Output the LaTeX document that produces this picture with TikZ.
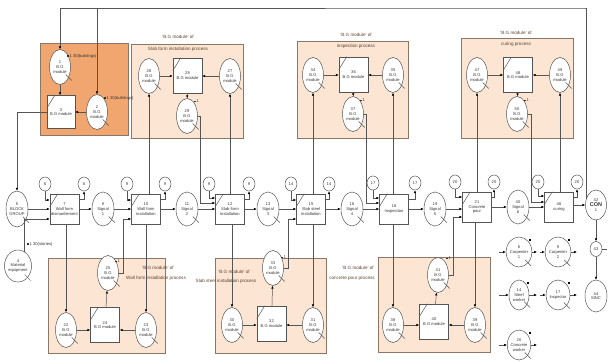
\documentclass[tikz,border=0pt]{standalone}
\usepackage{fontspec}
\setmainfont{Liberation Sans}
\usetikzlibrary{shapes.geometric,arrows.meta,calc}
\definecolor{dorange}{RGB}{241,166,112}
\definecolor{lorange}{RGB}{252,229,210}
\definecolor{bord}{RGB}{140,118,102}
\definecolor{ln}{RGB}{85,85,85}
\definecolor{ttl}{RGB}{95,65,45}
\newcommand\qtail[1]{\draw[ln,line width=0.5pt] ([shift={(-3,-3)}]#1.-50) -- ([shift={(3,3)}]#1.-50);}
\newcommand\cslash[1]{\draw[ln,line width=0.5pt] ([shift={(0,13)}]#1.north west) -- ([shift={(8,0)}]#1.north west);}
\newcommand\mkr{\rule{1.8pt}{1.8pt}\,}
\tikzset{
  every node/.style={font=\fontsize{4.1}{4.7}\selectfont, align=center, inner sep=0pt, text=black!80},
  bgq/.style={ellipse, draw=ln, fill=white, line width=0.5pt, minimum width=21, minimum height=35},
  sigq/.style={ellipse, draw=ln, fill=white, line width=0.5pt, minimum width=22, minimum height=34},
  resq/.style={ellipse, draw=ln, fill=white, line width=0.5pt, minimum width=20, minimum height=30},
  combi/.style={rectangle, draw=ln, fill=white, line width=0.5pt, minimum width=29, minimum height=30},
  mcombi/.style={rectangle, draw=ln, fill=white, line width=0.5pt, minimum width=29, minimum height=35},
  smallc/.style={ellipse, draw=ln, fill=white, line width=0.5pt, minimum width=12, minimum height=14},
  arr/.style={draw=ln, line width=0.5pt, -{Latex[length=2.8pt,width=2.4pt,black]}},
  plain/.style={draw=ln, line width=0.5pt},
  modbox/.style={fill=lorange, draw=bord, line width=0.7pt},
  ttlf/.style={font=\fontsize{4.6}{5.4}\selectfont, text=ttl},
  mk/.style={fill=black, minimum size=2, inner sep=0pt}
}
\begin{document}
\begin{tikzpicture}[x=1pt,y=-1pt]
\useasboundingbox (0,0) rectangle (609,361);
% ---------- background boxes ----------
\filldraw[fill=dorange, draw=bord, line width=0.7pt] (40,43) rectangle (128,135);
\filldraw[modbox] (131,44) rectangle (243,138);
\filldraw[modbox] (297,41) rectangle (408,138);
\filldraw[modbox] (461,38) rectangle (573,138);
\filldraw[modbox] (48,258) rectangle (165,353);
\filldraw[modbox] (215,258) rectangle (326,353);
\filldraw[modbox] (378,257) rectangle (490,352);
% ---------- titles ----------
\node[ttlf] (t1a) at (178,37) {`B.G module' of};
\node[ttlf] (t1b) at (178,49) {Slab form installation process};
\node[ttlf] (t2a) at (356,35) {`B.G module' of};
\node[ttlf] (t2b) at (356,46) {inspection process};
\node[ttlf] (t3a) at (516,33) {`B.G module' of};
\node[ttlf] (t3b) at (516,44) {curing process};
\node[ttlf] (t4a) at (158,268) {`B.G module' of};
\node[ttlf] (t4b) at (156,278) {Wall form installation process};
\node[ttlf] (t5a) at (234,272) {`B.G module' of};
\node[ttlf] (t5b) at (226,281) {Slab steel installation process};
\node[ttlf] (t6a) at (358,268) {`B.G module' of};
\node[ttlf] (t6b) at (352,278) {concrete pour process};
% ---------- left dark module ----------
\node[bgq] (m1) at (60,67) {1\\B.G\\module};
\node[bgq] (m2) at (97,112) {2\\B.G\\module};
\node[mcombi, minimum width=28, minimum height=33] (b3) at (61,112) {3\\B.G module};
\node[anchor=west] (l1) at (67,56) {\mkr 1 30(buildings)};
\node[anchor=west] (l2) at (104,98) {\mkr 1 30(buildings)};
\qtail{m1}\qtail{m2}\cslash{b3}
\draw[arr] (m1) -- (b3.north -| m1);
\draw[arr] (m2) -- (b3.east |- m2);
% ---------- slab form module ----------
\node[bgq] (m26) at (149,76) {26\\B.G\\module};
\node[mcombi] (b28) at (187.5,75.5) {28\\B.G module};
\node[bgq] (m27) at (230,76) {27\\B.G\\module};
\node[bgq] (m29) at (187,116) {29\\B.G\\module};
\node[anchor=west] (l29) at (194,101) {\mkr 1};
\qtail{m26}\qtail{m27}\qtail{m29}\cslash{b28}
\draw[arr] (m26) -- (b28.west |- m26);
\draw[arr] (m27) -- (b28.east |- m27);
\draw[arr] (b28) -- (m29);
% ---------- inspection module ----------
\node[bgq] (m34) at (313,75) {34\\B.G\\module};
\node[mcombi] (b36) at (353.5,74.5) {36\\B.G module};
\node[bgq] (m35) at (393,75) {35\\B.G\\module};
\node[bgq] (m37) at (353,114) {37\\B.G\\module};
\node[anchor=west] (l37) at (360,100) {\mkr 1};
\qtail{m34}\qtail{m35}\qtail{m37}\cslash{b36}
\draw[arr] (m34) -- (b36.west |- m34);
\draw[arr] (m35) -- (b36.east |- m35);
\draw[arr] (b36) -- (m37);
% ---------- curing module ----------
\node[bgq] (m47) at (477,75) {47\\B.G\\module};
\node[mcombi] (b48) at (518,75) {48\\B.G module};
\node[bgq] (m49) at (560,75) {49\\B.G\\module};
\node[bgq] (m50) at (517,114) {50\\B.G\\module};
\node[anchor=west] (l50) at (524,100) {\mkr 1};
\qtail{m47}\qtail{m49}\qtail{m50}\cslash{b48}
\draw[arr] (m47) -- (b48.west |- m47);
\draw[arr] (m49) -- (b48.east |- m49);
\draw[arr] (b48) -- (m50);
% ---------- wall form module ----------
\node[bgq] (m25) at (108,273) {25\\B.G\\module};
\node[bgq] (m22) at (66,330) {22\\B.G\\module};
\node[mcombi] (b24) at (105,325) {24\\B.G module};
\node[bgq] (m23) at (146,330) {23\\B.G\\module};
\node[anchor=west] (l25) at (115,261) {\mkr 1};
\qtail{m25}\qtail{m22}\qtail{m23}\cslash{b24}
\draw[arr] (m22) -- (b24.west |- m22);
\draw[arr] (m23) -- (b24.east |- m23);
\draw[arr] (b24) -- (m25);
% ---------- slab steel module ----------
\node[bgq] (m33) at (273,268) {33\\B.G\\module};
\node[bgq] (m30) at (232,325) {30\\B.G\\module};
\node[mcombi] (b32) at (271.5,323.5) {32\\B.G module};
\node[bgq] (m31) at (313,325) {31\\B.G\\module};
\node[anchor=west] (l33) at (281,257) {\mkr 1};
\qtail{m33}\qtail{m30}\qtail{m31}\cslash{b32}
\draw[arr] (m30) -- (b32.west |- m30);
\draw[arr] (m31) -- (b32.east |- m31);
\draw[arr] (b32) -- (m33);
% ---------- concrete pour module ----------
\node[bgq] (m41) at (438,275) {41\\B.G\\module};
\node[bgq] (m38) at (393,325) {38\\B.G\\module};
\node[mcombi] (b40) at (434,321.5) {40\\B.G module};
\node[bgq] (m39) at (475,325) {39\\B.G\\module};
\node[anchor=west] (l41) at (446,258) {\mkr 1};
\qtail{m41}\qtail{m38}\qtail{m39}\cslash{b40}
\draw[arr] (m38) -- (b40.west |- m38);
\draw[arr] (m39) -- (b40.east |- m39);
\draw[arr] (b40) -- (m41);
% ---------- main row ----------
\node[sigq, minimum width=22, minimum height=36] (n5) at (17,209) {5\\BLOCK\\GROUP};
\node[sigq, minimum width=20, minimum height=32] (n4) at (18,266) {4\\Material\\equipment};
\node[anchor=west] (l4) at (27,244) {\mkr 1 30(stories)};
\qtail{n5}\qtail{n4}
\node[combi] (b7) at (64.5,209) {7\\Wall form\\dismantlement};
\node[combi] (b10) at (146,209) {10\\Wall form\\installation};
\node[combi] (b12) at (230,209) {12\\Slab form\\installation};
\node[combi] (b15) at (311,209) {15\\Slab steel\\installation};
\node[combi] (b18) at (394,209) {18\\Inspection};
\node[combi] (b21) at (477,207) {21\\Concrete\\pour};
\node[combi] (b46) at (559,207) {46\\curing};
\foreach \b in {b7,b10,b12,b15,b18,b21,b46} {\cslash{\b}}
\node[sigq] (s8) at (103,209) {8\\Signal\\1};
\node[sigq] (s11) at (187,209) {11\\Signal\\2};
\node[sigq] (s13) at (268,209) {13\\Signal\\3};
\node[sigq] (s16) at (352,209) {16\\Signal\\4};
\node[sigq] (s19) at (435,209) {19\\Signal\\5};
\node[sigq] (s45) at (518,207) {45\\Signal\\6};
\foreach \s in {s8,s11,s13,s16,s19,s45} {\qtail{\s}}
\node[sigq, minimum width=21, minimum height=30] (con) at (596,205) {42\\\fontsize{5.5}{6.5}\selectfont\bfseries CON\\1};
\node[smallc] (c6a) at (45,184) {6};
\node[smallc] (c6b) at (84,184) {6};
\node[smallc] (c9a) at (127,184) {9};
\node[smallc] (c9b) at (165,184) {9};
\node[smallc] (c9c) at (209,184) {9};
\node[smallc] (c9d) at (249,184) {9};
\node[smallc] (c14a) at (291,184) {14};
\node[smallc] (c14b) at (329,184) {14};
\node[smallc] (c17a) at (373,183) {17};
\node[smallc] (c17b) at (415,183) {17};
\node[smallc] (c20a) at (455,182) {20};
\node[smallc] (c20b) at (494,182) {20};
\node[smallc] (c20c) at (538,182) {20};
\node[smallc] (c20d) at (577,182) {20};
% main flow
\draw[arr] (n5) -- (b7);
\draw[arr] (b7) -- (s8);
\draw[arr] (s8) -- (b10);
\draw[arr] (b10) -- (s11);
\draw[arr] (s11) -- (b12);
\draw[arr] (b12) -- (s13);
\draw[arr] (s13) -- (b15);
\draw[arr] (b15) -- (s16);
\draw[arr] (s16) -- (b18);
\draw[arr] (b18) -- (s19);
\draw[arr] (s19) -- (b21.west |- s19);
\draw[arr] (b21) -- (s45);
\draw[arr] (s45) -- (b46);
\draw[arr] (b46.east |- con) -- (con);
% resource circles in / out
\draw[arr] (c6a) |- (b7.west |- 0,200);
\draw[arr] (b7.east |- 0,199) -| (c6b);
\draw[arr] (c9a) |- (b10.west |- 0,200);
\draw[arr] (b10.east |- 0,199) -| (c9b);
\draw[arr] (c9c) |- (b12.west |- 0,198);
\draw[arr] (b12.east |- 0,199) -| (c9d);
\draw[arr] (c14a) |- (b15.west |- 0,200);
\draw[arr] (b15.east |- 0,199) -| (c14b);
\draw[arr] (c17a) |- (b18.west |- 0,198);
\draw[arr] (b18.east |- 0,199) -| (c17b);
\draw[arr] (c20a) |- (b21.west |- 0,197);
\draw[arr] (b21.east |- 0,197) -| (c20b);
\draw[arr] (c20c) |- (b46.west |- 0,196);
\draw[arr] (b46.east |- 0,197) -| (c20d);
% module links, top
\draw[arr] (b10.north -| m26) -- (m26);
\draw[arr] (b12.north -| m27) -- (m27);
\draw[arr] (m29.east) -| (200,203) -- (b12.west |- 0,203);
\draw[arr] (b15.north -| m34) -- (m34);
\draw[arr] (b18.north -| m35) -- (m35);
\draw[arr] (m37.east) -| (366,203) -- (b18.west |- 0,203);
\draw[arr] (b21.north -| m47) -- (m47);
\draw[arr] (b46.north -| m49) -- (m49);
\draw[arr] (m50.east) -| (531,202) -- (b46.west |- 0,202);
% module links, bottom
\draw[arr] (b7.south -| m22) -- (m22);
\draw[arr] (b10.south -| m23) -- (m23);
\draw[arr] (m25.east) -| (123,219) -- (b10.west |- 0,219);
\draw[arr] (b12.south -| m30) -- (m30);
\draw[arr] (b15.south -| m31) -- (m31);
\draw[arr] (m33.east) -| (288,219) -- (b15.west |- 0,219);
\draw[arr] (b18.south -| m38) -- (m38);
\draw[arr] (b21.south -| m39) -- (m39);
\draw[arr] (m41.east) -| (453,217) -- (b21.west |- 0,217);
% left links
\draw[arr] (b3.west) -| (n5);
\draw[arr] (n4.65) |- (b7.west |- 0,219);
% top loop
\coordinate (tr) at (585,8);
\draw[arr] (con.150) |- (tr) -| (m1);
\draw[arr] (m2 |- tr) -- (m2);
% right-hand nodes
\node[smallc, minimum width=12, minimum height=15] (c43) at (596,249) {43};
\node[sigq, minimum width=22, minimum height=32] (sinc) at (596,296) {44\\SINC};
\draw[arr] (con) -- (c43);
\draw[arr] (c43) -- (sinc);
\coordinate (r43) at (607,249);
\draw[plain] (c43) -- (r43);
% resources
\node[resq] (r6) at (519,252) {6\\Carpenter\\1};
\node[resq] (r9) at (558,252) {9\\Carpenter\\2};
\node[resq] (r14) at (519,295) {14\\Steel\\worker};
\node[resq] (r17) at (558,295) {17\\Inspector};
\node[resq] (r20) at (519,345) {20\\Concrete\\worker};
\foreach \r in {r6,r9,r14,r17,r20} {
  \qtail{\r}
  \node[mk] at ([shift={(2,-1)}]\r.north east) {};
}
\coordinate (i6) at (499,252); \coordinate (o6) at (537,252);
\coordinate (i9) at (540,252); \coordinate (o9) at (577,252);
\coordinate (i14) at (499,295); \coordinate (o14) at (537,295);
\coordinate (i17) at (540,295); \coordinate (o17) at (577,295);
\coordinate (i20) at (499,345); \coordinate (o20) at (537,345);
\draw[arr] (i6) -- (r6); \draw[arr] (r6) -- (o6);
\draw[arr] (i9) -- (r9); \draw[arr] (r9) -- (o9);
\draw[arr] (i14) -- (r14); \draw[arr] (r14) -- (o14);
\draw[arr] (i17) -- (r17); \draw[arr] (r17) -- (o17);
\draw[arr] (i20) -- (r20); \draw[arr] (r20) -- (o20);
\end{tikzpicture}
\end{document}
